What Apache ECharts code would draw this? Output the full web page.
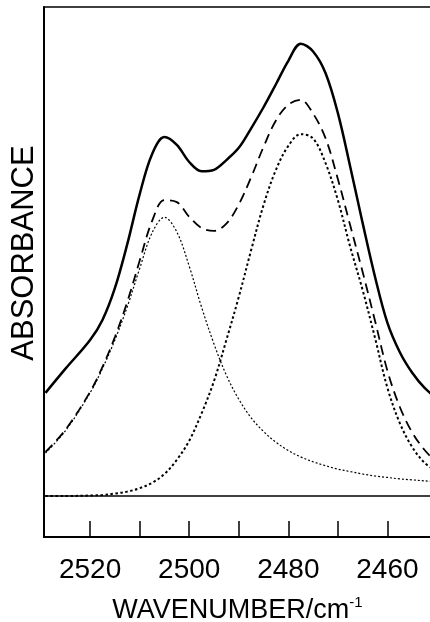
<!DOCTYPE html>
<html>
<head>
<meta charset="utf-8">
<title>Absorbance spectrum</title>
<script src="https://cdn.jsdelivr.net/npm/echarts@6/dist/echarts.min.js"></script>
<style>
  html, body { margin: 0; padding: 0; background: #fff; }
  #chart { width: 430px; height: 622px; }
</style>
</head>
<body>
<div id="chart"></div>
<script>
// wavenumber sample points (cm-1)
const wavenumbers = [2529, 2525, 2520, 2517.5, 2515, 2512.5, 2510, 2507.5, 2505, 2502.5,
  2500, 2497.5, 2495, 2492.5, 2490, 2487.5, 2485, 2482.5, 2480, 2477.5,
  2475, 2472.5, 2470, 2467.5, 2465, 2462.5, 2460, 2457.5, 2455, 2452.5, 2450]

// measured spectrum (offset upward)
const measured = [0.211, 0.260, 0.319, 0.360, 0.425, 0.515, 0.617, 0.699, 0.734, 0.718,
  0.683, 0.664, 0.667, 0.687, 0.712, 0.752, 0.795, 0.842, 0.890, 0.925,
  0.909, 0.865, 0.783, 0.673, 0.558, 0.448, 0.354, 0.294, 0.252, 0.221, 0.200]

// fitted sum
const fitted = [0.090, 0.135, 0.213, 0.264, 0.325, 0.397, 0.481, 0.562, 0.605, 0.601,
  0.571, 0.548, 0.542, 0.557, 0.596, 0.652, 0.714, 0.768, 0.800, 0.810,
  0.782, 0.732, 0.648, 0.553, 0.458, 0.358, 0.256, 0.182, 0.130, 0.094, 0.068]

// component bands
const band1 = [0.088, 0.133, 0.211, 0.261, 0.319, 0.387, 0.465, 0.538, 0.570, 0.540,
  0.470, 0.386, 0.311, 0.247, 0.198, 0.160, 0.132, 0.110, 0.093, 0.080,
  0.070, 0.062, 0.055, 0.050, 0.045, 0.041, 0.038, 0.035, 0.033, 0.031, 0.029]
const band2 = [0.000, 0.000, 0.001, 0.002, 0.005, 0.009, 0.016, 0.027, 0.045, 0.074,
  0.113, 0.169, 0.235, 0.319, 0.407, 0.503, 0.595, 0.667, 0.716, 0.740,
  0.731, 0.681, 0.605, 0.509, 0.421, 0.323, 0.221, 0.149, 0.100, 0.068, 0.050]

const xTickLabels = [2520, 2500, 2480, 2460]

const FONT = '"Liberation Sans", Arial, Helvetica, sans-serif'

const pairs = (vals) => wavenumbers.map((w, i) => [w, vals[i]])

const chart = echarts.init(document.getElementById('chart'))

const lineSeries = (vals, width, type, z) => ({
  type: 'line',
  data: pairs(vals),
  smooth: 0.35,
  symbol: 'none',
  silent: true,
  z: z,
  lineStyle: { color: '#000', width: width, type: type }
})

const options = {
  animation: false,
  backgroundColor: '#fff',
  grid: {
    left: 44,
    top: 7,
    width: 393,
    height: 530,
    // the frame runs past the right edge of the picture
    outerBoundsMode: 'none',
    containLabel: false,
    show: true,
    borderColor: '#000',
    borderWidth: 1.5
  },
  xAxis: {
    type: 'value',
    inverse: true,
    min: 2450,
    max: 2529.3,
    interval: 10,
    axisLine: { show: true, onZero: false, lineStyle: { color: '#000', width: 2 } },
    axisTick: { show: true, inside: true, length: 16, lineStyle: { color: '#000', width: 1.5 } },
    splitLine: { show: false },
    axisLabel: {
      margin: 19,
      fontSize: 28,
      fontFamily: FONT,
      color: '#000',
      formatter: (v) => (xTickLabels.includes(v) ? String(v) : '')
    },
    name: 'WAVENUMBER/cm{sup|-1}',
    nameLocation: 'middle',
    nameGap: 58,
    nameTextStyle: {
      fontSize: 27,
      fontFamily: FONT,
      color: '#000',
      padding: [0, 6, 0, 0],
      rich: {
        sup: { fontSize: 15, fontFamily: FONT, color: '#000', verticalAlign: 'top', padding: [0, 0, 16, 0] }
      }
    }
  },
  yAxis: {
    type: 'value',
    min: -0.0838,
    max: 1,
    axisLine: { show: true, lineStyle: { color: '#000', width: 2 } },
    axisTick: { show: false },
    axisLabel: { show: false },
    splitLine: { show: false }
  },
  graphic: [
    {
      type: 'text',
      x: 24,
      y: 253,
      rotation: Math.PI / 2,
      style: {
        text: 'ABSORBANCE',
        fontSize: 31,
        fontFamily: FONT,
        fill: '#000',
        align: 'center',
        verticalAlign: 'middle'
      }
    }
  ],
  series: [
    lineSeries(measured, 2.5, 'solid', 5),
    lineSeries(fitted, 1.8, [10, 6], 4),
    lineSeries(band1, 1.2, [2, 2], 3),
    Object.assign(lineSeries(band2, 2, [2.5, 2.5], 3), {
      // baseline
      markLine: {
        silent: true,
        symbol: 'none',
        label: { show: false },
        lineStyle: { color: '#000', width: 1.5, type: 'solid' },
        data: [{ yAxis: 0 }]
      }
    })
  ]
}

chart.setOption(options)
</script>
</body>
</html>
